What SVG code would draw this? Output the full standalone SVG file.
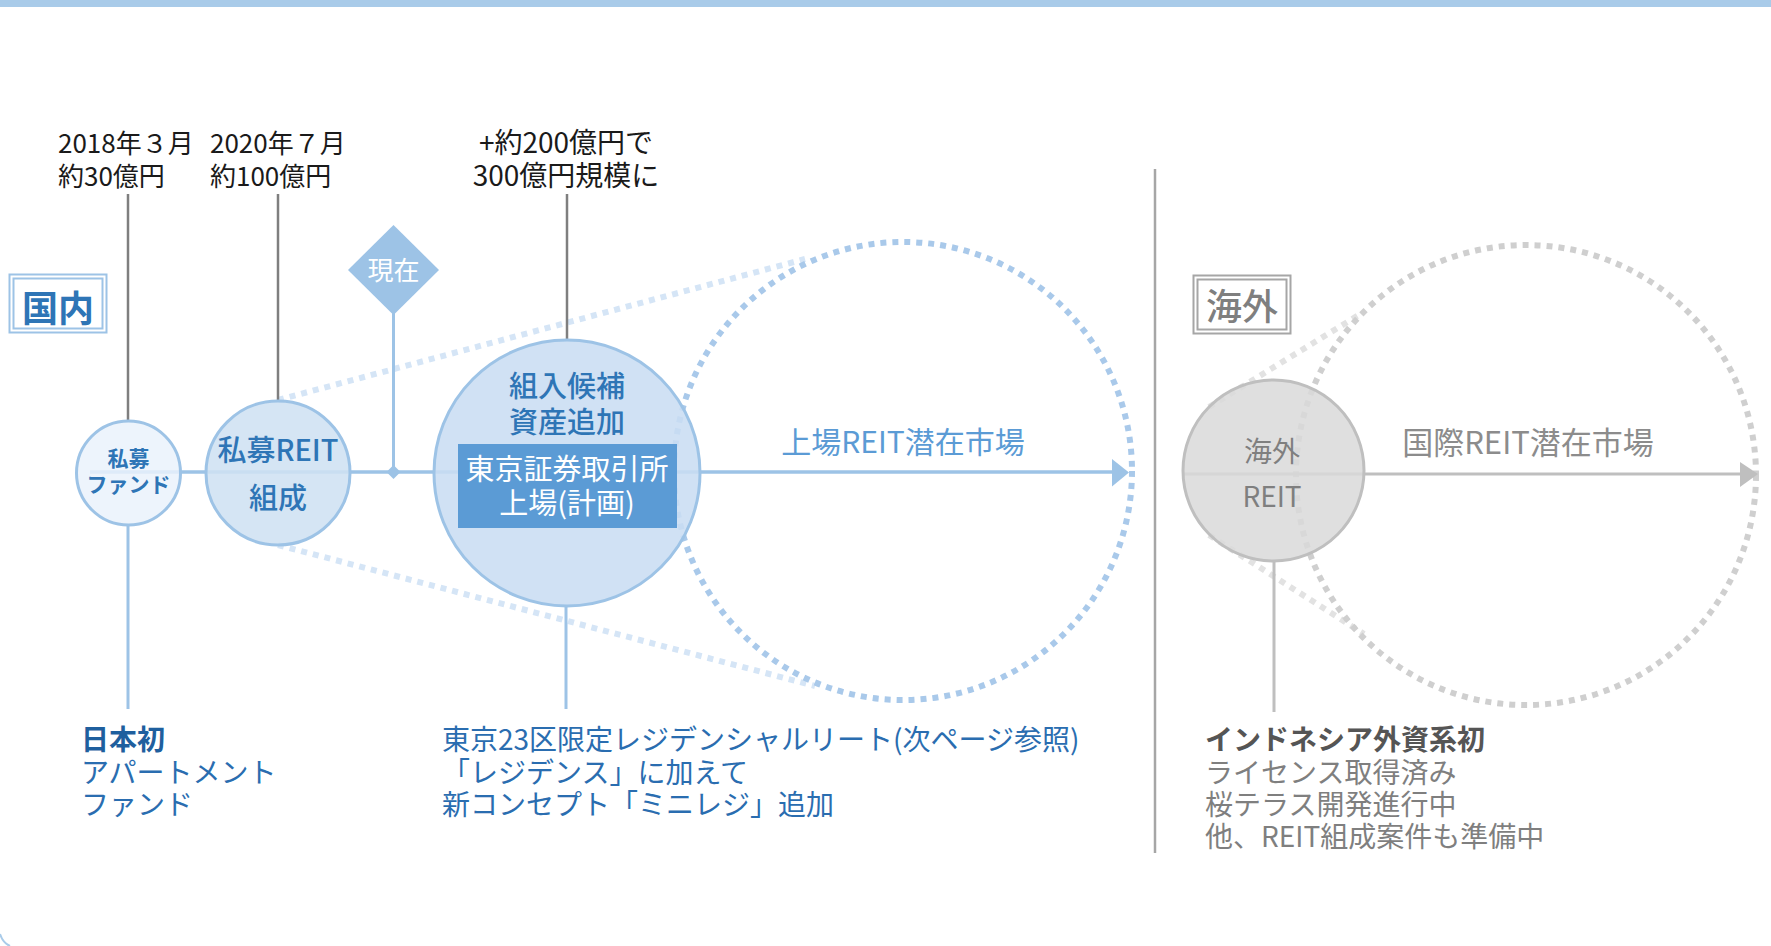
<svg xmlns="http://www.w3.org/2000/svg" width="1771" height="946" viewBox="0 0 1771 946">
<style>
text{font-family:'Noto Sans CJK JP','Noto Sans',sans-serif}
.blk{fill:#1a1a1a;font-size:26px}
.blk2{fill:#1a1a1a;font-size:28px}
.dotb{fill:none;stroke:#a9c9ea;stroke-width:6;stroke-dasharray:6 6}
.dotbl{fill:none;stroke:#d5e5f6;stroke-width:6;stroke-dasharray:6 6}
.dotg{fill:none;stroke:#cfcfcf;stroke-width:6;stroke-dasharray:6 6}
.dotgl{fill:none;stroke:#e2e2e2;stroke-width:6;stroke-dasharray:6 6}
.gl{stroke:#7f7f7f;stroke-width:2.5}
.bl{stroke:#9dc3e6;stroke-width:3}
.gy{stroke:#bfbfbf;stroke-width:3}
.blue{fill:#2e75b6}
.bt{font-size:28px}
</style>
<rect x="0" y="0" width="1771" height="7" fill="#a9cbe9"/>
<path d="M0,934 Q3,943 10,946" fill="none" stroke="#a9cbe9" stroke-width="2"/>

<g id="connectors">
  <line class="dotbl" x1="278" y1="400" x2="805" y2="259"/>
  <line class="dotbl" x1="278" y1="545" x2="815" y2="686"/>
  <circle class="dotb" cx="903" cy="471" r="229"/>
  <line class="dotgl" x1="1209" y1="407" x2="1362" y2="313"/>
  <line class="dotgl" x1="1209" y1="535" x2="1364" y2="634"/>
  <circle class="dotg" cx="1526" cy="475" r="230"/>
  <line class="bl" x1="90" y1="472" x2="1114" y2="472" style="stroke-width:3.5"/>
  <polygon points="1112,459 1129,472.5 1112,486.5" fill="#9dc3e6"/>
  <line class="gy" x1="1183" y1="474" x2="1742" y2="474"/>
  <polygon points="1740,462 1758,474 1740,487" fill="#bfbfbf"/>
  <line class="gl" x1="128" y1="194" x2="128" y2="421"/>
  <line class="gl" x1="278" y1="194" x2="278" y2="400"/>
  <line class="gl" x1="567" y1="194" x2="567" y2="340"/>
  <line class="bl" x1="393.5" y1="312" x2="393.5" y2="472"/>
  <polygon points="393.5,465 400.5,472 393.5,479 386.5,472" fill="#9dc3e6"/>
  <line class="bl" x1="128" y1="525" x2="128" y2="709"/>
  <line class="bl" x1="566" y1="606" x2="566" y2="709"/>
  <line class="gy" x1="1274" y1="561" x2="1274" y2="712"/>
  <line x1="1155" y1="169" x2="1155" y2="853" stroke="#a6a6a6" stroke-width="2.5"/>
</g>

<g id="label-domestic">
  <rect x="9.5" y="274.5" width="97" height="58" fill="none" stroke="#9dc3e6" stroke-width="2"/>
  <rect x="13.5" y="278.5" width="89" height="50" fill="none" stroke="#9dc3e6" stroke-width="2"/>
  <text x="58" y="322" text-anchor="middle" font-size="36" font-weight="bold" class="blue">国内</text>
</g>

<g id="label-overseas">
  <rect x="1193.5" y="275.5" width="97" height="58" fill="none" stroke="#a6a6a6" stroke-width="2"/>
  <rect x="1197.5" y="279.5" width="89" height="50" fill="none" stroke="#a6a6a6" stroke-width="2"/>
  <text x="1242" y="320" text-anchor="middle" font-size="36" font-weight="500" fill="#7f7f7f">海外</text>
</g>

<g id="node-private-fund">
  <circle cx="128.5" cy="473" r="52" fill="#eaf2fb" fill-opacity="0.85" stroke="#9dc3e6" stroke-width="3"/>
  <text x="128.5" y="466" text-anchor="middle" font-size="21" font-weight="bold" class="blue">私募</text>
  <text x="128.5" y="492" text-anchor="middle" font-size="21" font-weight="bold" class="blue">ファンド</text>
</g>

<g id="node-private-reit">
  <circle cx="278" cy="473" r="72" fill="#cfe1f3" fill-opacity="0.88" stroke="#9dc3e6" stroke-width="3"/>
  <text x="278" y="461" text-anchor="middle" font-size="29" font-weight="500" class="blue">私募REIT</text>
  <text x="278" y="509" text-anchor="middle" font-size="29" font-weight="500" class="blue">組成</text>
</g>

<g id="node-now">
  <polygon points="393.5,225 439,270 393.5,315 348,270" fill="#9dc3e6"/>
  <text x="393.5" y="280" text-anchor="middle" font-size="26" fill="#ffffff">現在</text>
</g>

<g id="node-listing">
  <circle cx="567" cy="473" r="133" fill="#c9ddf2" fill-opacity="0.88" stroke="#9dc3e6" stroke-width="3"/>
  <text x="567" y="397" text-anchor="middle" font-size="29" font-weight="500" class="blue">組入候補</text>
  <text x="567" y="433" text-anchor="middle" font-size="29" font-weight="500" class="blue">資産追加</text>
  <rect x="458" y="444" width="219" height="84" fill="#5b9bd5"/>
  <text x="567" y="480" text-anchor="middle" font-size="29" fill="#ffffff">東京証券取引所</text>
  <text x="567" y="514" text-anchor="middle" font-size="29" fill="#ffffff">上場(計画)</text>
</g>

<g id="label-listed-market">
  <text x="903" y="453" text-anchor="middle" font-size="30" fill="#5b9bd5">上場REIT潜在市場</text>
</g>

<g id="node-overseas-reit">
  <circle cx="1273.5" cy="470.5" r="90.5" fill="#d9d9d9" fill-opacity="0.85" stroke="#bfbfbf" stroke-width="3"/>
  <text x="1272" y="462" text-anchor="middle" font-size="28" fill="#7f7f7f">海外</text>
  <text x="1272" y="507" text-anchor="middle" font-size="28" fill="#7f7f7f">REIT</text>
</g>

<g id="label-intl-market">
  <text x="1528" y="454" text-anchor="middle" font-size="31" fill="#8c8c8c">国際REIT潜在市場</text>
</g>

<g id="top-labels">
  <text class="blk" x="58" y="153">2018年３月</text>
  <text class="blk" x="58" y="186">約30億円</text>
  <text class="blk" x="210" y="153">2020年７月</text>
  <text class="blk" x="210" y="186">約100億円</text>
  <text class="blk2" x="566" y="153" text-anchor="middle">+約200億円で</text>
  <text class="blk2" x="566" y="186" text-anchor="middle">300億円規模に</text>
</g>

<g id="note-fund">
  <text class="bt" x="81" y="750" font-weight="bold" fill="#1f5f9e">日本初</text>
  <text class="bt" x="81" y="783" fill="#2a6db0">アパートメント</text>
  <text class="bt" x="81" y="815" fill="#2a6db0">ファンド</text>
</g>

<g id="note-listing">
  <text class="bt" x="442" y="750" fill="#2a6db0">東京23区限定レジデンシャルリート(次ページ参照)</text>
  <text class="bt" x="442" y="783" fill="#2a6db0">「レジデンス」に加えて</text>
  <text class="bt" x="442" y="815" fill="#2a6db0">新コンセプト「ミニレジ」追加</text>
</g>

<g id="note-overseas">
  <text class="bt" x="1205" y="750" font-weight="bold" fill="#555555">インドネシア外資系初</text>
  <text class="bt" x="1205" y="783" fill="#7f7f7f">ライセンス取得済み</text>
  <text class="bt" x="1205" y="815" fill="#7f7f7f">桜テラス開発進行中</text>
  <text class="bt" x="1205" y="847" fill="#7f7f7f">他、REIT組成案件も準備中</text>
</g>
</svg>
